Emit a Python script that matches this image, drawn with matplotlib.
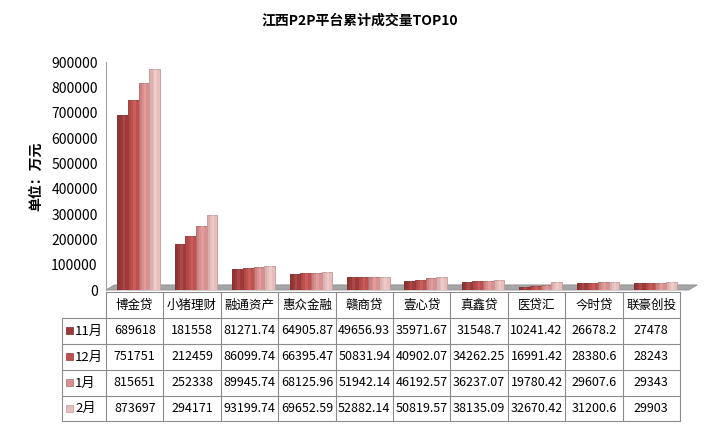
import matplotlib
matplotlib.use("Agg")
import matplotlib.pyplot as plt
import numpy as np
from matplotlib.patches import Polygon, Rectangle

plt.rcParams['font.family'] = ['Noto Sans CJK SC', 'DejaVu Sans']

categories = ["博金贷", "小猪理财", "融通资产", "惠众金融", "赣商贷", "壹心贷", "真鑫贷", "医贷汇", "今时贷", "联豪创投"]
series_names = ["11月", "12月", "1月", "2月"]
s_nov = [689618, 181558, 81271.74, 64905.87, 49656.93, 35971.67, 31548.7, 10241.42, 26678.2, 27478]
s_dec = [751751, 212459, 86099.74, 66395.47, 50831.94, 40902.07, 34262.25, 16991.42, 28380.6, 28243]
s_jan = [815651, 252338, 89945.74, 68125.96, 51942.14, 46192.57, 36237.07, 19780.42, 29607.6, 29343]
s_feb = [873697, 294171, 93199.74, 69652.59, 52882.14, 50819.57, 38135.09, 32670.42, 31200.6, 29903]
series = [s_nov, s_dec, s_jan, s_feb]
labels_txt = [["689618", "181558", "81271.74", "64905.87", "49656.93", "35971.67", "31548.7", "10241.42", "26678.2", "27478"],
              ["751751", "212459", "86099.74", "66395.47", "50831.94", "40902.07", "34262.25", "16991.42", "28380.6", "28243"],
              ["815651", "252338", "89945.74", "68125.96", "51942.14", "46192.57", "36237.07", "19780.42", "29607.6", "29343"],
              ["873697", "294171", "93199.74", "69652.59", "52882.14", "50819.57", "38135.09", "32670.42", "31200.6", "29903"]]
yticks = [0, 100000, 200000, 300000, 400000, 500000, 600000, 700000, 800000, 900000]

colors = ["#9E3B3A", "#C0504D", "#D9908F", "#E8BEBD"]
dark = ["#7A2A29", "#953C3A", "#B06C6B", "#C49998"]
light = ["#B85856", "#D06E6B", "#E6AAA9", "#F2D4D3"]

W, H = 719, 424
fig = plt.figure(figsize=(W / 100, H / 100), dpi=100)

def fx(px):
    return px / W

def fy(py):
    return 1 - py / H

x0, x1 = 106, 680
ytop, ybot = 62, 290
ax = fig.add_axes([fx(x0), fy(ybot), fx(x1) - fx(x0), fy(ytop) - fy(ybot)])
ax.set_xlim(0, len(categories))
ax.set_ylim(0, 900000)
for s in ["top", "right", "bottom"]:
    ax.spines[s].set_visible(False)
ax.spines["left"].set_color("#A0A0A0")
ax.set_xticks([])
ax.set_yticks(yticks)
ax.set_yticklabels([str(v) for v in yticks], fontsize=10)
ax.tick_params(axis='y', length=0, pad=6)

# floor
floor = Polygon([[0, 0], [len(categories) + 0.15, 0], [len(categories) + 0.3, 20000], [0.15, 20000]],
                closed=True, facecolor="#A6A6A6", edgecolor="#8C8C8C", lw=0.6, zorder=1, clip_on=False)
ax.add_patch(floor)

bw = 0.185
offs = [-1.5, -0.5, 0.5, 1.5]
xs = np.arange(len(categories)) + 0.57
for i, vals in enumerate(series):
    pos = xs + offs[i] * bw
    ax.bar(pos, vals, width=bw, color=colors[i], edgecolor=dark[i], linewidth=0.6, zorder=3)
    ax.bar(pos - bw * 0.35, vals, width=bw * 0.3, color=dark[i], alpha=0.35, linewidth=0, zorder=4)
    ax.bar(pos + bw * 0.1, vals, width=bw * 0.25, color=light[i], alpha=0.5, linewidth=0, zorder=4)

fig.text(0.5, fy(20), "江西P2P平台累计成交量TOP10", ha="center", va="center", fontsize=10, fontweight="bold")
fig.text(fx(36), fy(176), "单位：万元", rotation=90, ha="center", va="center", fontsize=10, fontweight="bold")

# data table
tax = fig.add_axes([0, 0, 1, 1], facecolor="none")
tax.set_xlim(0, W)
tax.set_ylim(H, 0)
tax.axis("off")
lc = "#8C8C8C"
colw = (x1 - x0) / len(categories)
rows_y = [292, 318, 344, 370, 396, 421]
left = 62
tax.plot([x0, x1], [rows_y[0], rows_y[0]], color=lc, lw=0.8)
for r in range(1, len(rows_y)):
    tax.plot([left, x1], [rows_y[r], rows_y[r]], color=lc, lw=0.8)
tax.plot([left, left], [rows_y[1], rows_y[-1]], color=lc, lw=0.8)
for c in range(len(categories) + 1):
    tax.plot([x0 + c * colw] * 2, [rows_y[0], rows_y[-1]], color=lc, lw=0.8)
for c, name in enumerate(categories):
    tax.text(x0 + (c + 0.5) * colw, (rows_y[0] + rows_y[1]) / 2, name, ha="center", va="center", fontsize=9)
for r in range(len(series_names)):
    yc = (rows_y[r + 1] + rows_y[r + 2]) / 2
    tax.add_patch(Rectangle((66, yc - 4), 7, 7, facecolor=colors[r], edgecolor=dark[r], lw=0.5))
    tax.text(75, yc, series_names[r], ha="left", va="center", fontsize=9.5)
    for c in range(len(categories)):
        tax.text(x0 + (c + 0.5) * colw, yc, labels_txt[r][c], ha="center", va="center", fontsize=9)

fig.savefig("out.png", dpi=100)
